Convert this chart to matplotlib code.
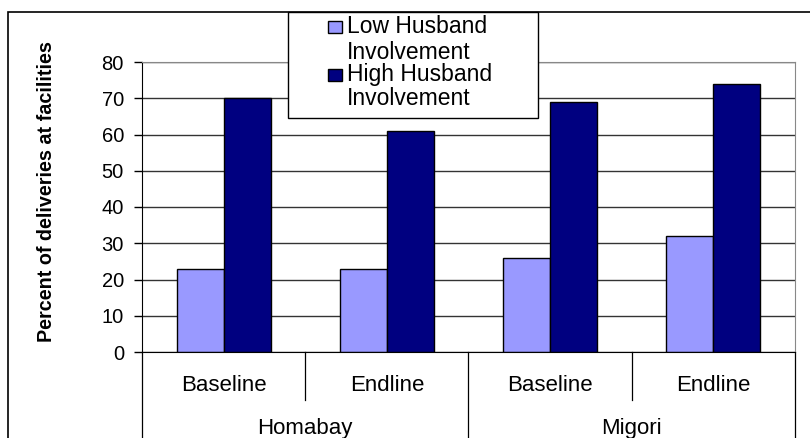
import numpy as np
import matplotlib.pyplot as plt
from matplotlib.patches import Rectangle

plt.rcParams['font.family'] = ['Liberation Sans', 'DejaVu Sans']

# data
periods = ['Baseline', 'Endline', 'Baseline', 'Endline']
districts = ['Homabay', 'Migori']
series_names = ['Low Husband\nInvolvement', 'High Husband\nInvolvement']
low_vals = [23, 23, 26, 32]
high_vals = [70, 61, 69, 74]
colors = ['#9999FF', '#000080']

W, H = 810, 438
fig = plt.figure(figsize=(W / 100, H / 100), dpi=100)


def fx(px):
    return px / W


def fy(py):
    return 1 - py / H


# outer chart border
fig.patches.append(Rectangle((fx(8), -0.05), 1.2, fy(12) + 0.05, transform=fig.transFigure,
                             fill=False, edgecolor='black', linewidth=1.2))

left, right, top, bottom = 142, 795, 62, 352
ax = fig.add_axes([fx(left), fy(bottom), fx(right - left), (bottom - top) / H])

x = np.arange(len(periods))
w = 47 / 163
ax.bar(x - w / 2, low_vals, w, color=colors[0], edgecolor='black', linewidth=1, zorder=3)
ax.bar(x + w / 2, high_vals, w, color=colors[1], edgecolor='black', linewidth=1, zorder=3)

ax.set_xlim(-0.5, len(periods) - 0.5)
ax.set_ylim(0, 80)
ax.set_yticks(range(0, 81, 10))
ax.yaxis.grid(True, color='#333333', linewidth=1, zorder=0)
ax.tick_params(axis='y', direction='out', length=6, width=1, pad=7, labelsize=14.5)
ax.set_xticks([])
for s in ['top', 'right']:
    ax.spines[s].set_color('#888888')
ax.spines['left'].set_color('black')
ax.spines['bottom'].set_color('black')
ax.spines['bottom'].set_zorder(4)

ax.set_ylabel('Percent of deliveries at facilities', fontsize=14.2, fontweight='bold')
ax.yaxis.set_label_coords(-(left - 56) / (right - left), (bottom - 192) / (bottom - top))

# two-level category axis
trans = ax.get_xaxis_transform()
ph = bottom - top
sub_depth = -48 / ph
full_depth = -(H - bottom + 5) / ph
for i in range(len(periods) + 1):
    xe = i - 0.5
    depth = full_depth if i % 2 == 0 else sub_depth
    ax.plot([xe, xe], [0, depth], transform=trans, color='black', linewidth=0.9, clip_on=False)
for i, p in enumerate(periods):
    ax.text(i, -39 / ph, p, transform=trans, ha='center', va='baseline', fontsize=16)
for j, d in enumerate(districts):
    ax.text(2 * j + 0.5, -82 / ph, d, transform=trans, ha='center', va='baseline', fontsize=16)

# legend box
fig.patches.append(Rectangle((fx(288), fy(118)), fx(538 - 288), (118 - 12) / H,
                             transform=fig.transFigure, facecolor='white', edgecolor='black',
                             linewidth=1, zorder=5))
baselines = [(33, 59), (81, 105)]
for k, name in enumerate(series_names):
    b1, b2 = baselines[k]
    fig.patches.append(Rectangle((fx(328), fy(b1)), fx(14), 12 / H, transform=fig.transFigure,
                                 facecolor=colors[k], edgecolor='black', linewidth=1, zorder=6))
    for line, b in zip(name.split('\n'), (b1, b2)):
        fig.text(fx(347), fy(b), line, fontsize=16.5, va='baseline', ha='left', zorder=7)

fig.savefig('out.png', dpi=100)
